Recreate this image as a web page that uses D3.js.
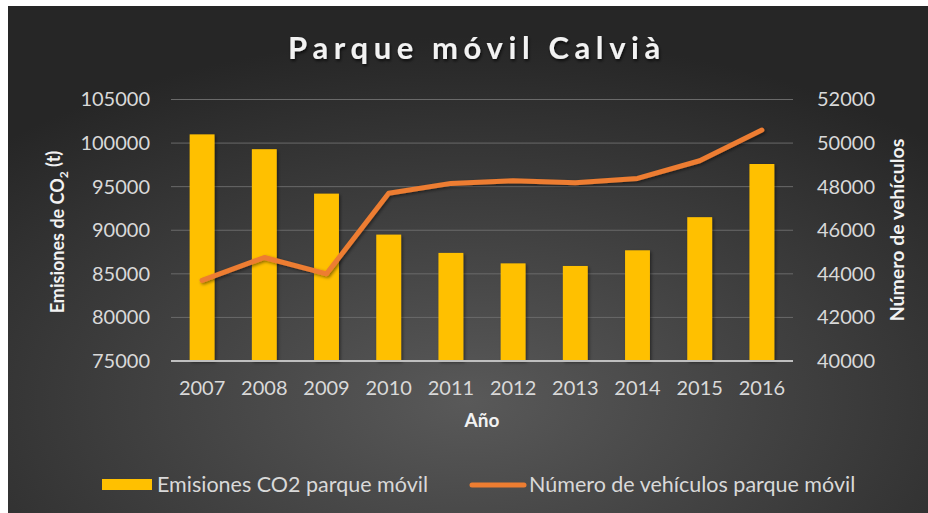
<!DOCTYPE html>
<html>
<head>
<meta charset="utf-8">
<script src="https://cdn.jsdelivr.net/npm/d3@7"></script>
<style>
  body { margin: 0; background: #fff; }
  svg { display: block; font-family: Lato, "Open Sans", sans-serif; }
</style>
</head>
<body>
<script>
// values
var years = ["2007", "2008", "2009", "2010", "2011", "2012", "2013", "2014", "2015", "2016"];
var emisiones = [101000, 99300, 94200, 89500, 87400, 86200, 85900, 87700, 91500, 97600];
var vehiculos = [43700, 44750, 44000, 47700, 48150, 48270, 48180, 48380, 49190, 50600];
var leftTicks = [75000, 80000, 85000, 90000, 95000, 100000, 105000];
var rightTicks = [40000, 42000, 44000, 46000, 48000, 50000, 52000];

var width = 928, height = 513;
var plot = {left: 171, right: 793, top: 99.5, bottom: 361};

var svg = d3.select("body").append("svg")
    .attr("width", width)
    .attr("height", height);

var defs = svg.append("defs");

var grad = defs.append("radialGradient")
    .attr("id", "bg")
    .attr("cx", "50%").attr("cy", "78%").attr("r", "72%");
grad.append("stop").attr("offset", "0%").attr("stop-color", "#595959");
grad.append("stop").attr("offset", "100%").attr("stop-color", "#262626");

var shadow = defs.append("filter")
    .attr("id", "shadow")
    .attr("x", "-20%").attr("y", "-20%").attr("width", "140%").attr("height", "140%");
shadow.append("feDropShadow")
    .attr("dx", 1.5).attr("dy", 1.5).attr("stdDeviation", 1.5)
    .attr("flood-color", "#000").attr("flood-opacity", 0.45);

var tshadow = defs.append("filter").attr("id", "tshadow");
tshadow.append("feDropShadow")
    .attr("dx", 1).attr("dy", 2).attr("stdDeviation", 1.5)
    .attr("flood-color", "#000").attr("flood-opacity", 0.7);

// background panel (white strip left/top like the screenshot)
svg.append("rect")
    .attr("x", 8).attr("y", 6)
    .attr("width", width - 8).attr("height", height - 6)
    .attr("fill", "url(#bg)");

var x = d3.scaleBand()
    .domain(years)
    .range([plot.left, plot.right])
    .paddingInner(0.6)
    .paddingOuter(0.3);

var yL = d3.scaleLinear()
    .domain([75000, 105000])
    .range([plot.bottom, plot.top]);

var yR = d3.scaleLinear()
    .domain([40000, 52000])
    .range([plot.bottom, plot.top]);

// gridlines
svg.append("g")
    .selectAll("line")
    .data(leftTicks.slice(1))
  .enter().append("line")
    .attr("x1", plot.left).attr("x2", plot.right)
    .attr("y1", function(d) { return yL(d); })
    .attr("y2", function(d) { return yL(d); })
    .attr("stroke", "#6a6a6a")
    .attr("stroke-width", 1);

// bars
svg.append("g")
    .attr("filter", "url(#shadow)")
    .selectAll("rect")
    .data(emisiones)
  .enter().append("rect")
    .attr("x", function(d, i) { return x(years[i]); })
    .attr("y", function(d) { return yL(d); })
    .attr("width", x.bandwidth())
    .attr("height", function(d) { return plot.bottom - yL(d); })
    .attr("fill", "#FFC000");

// baseline
svg.append("line")
    .attr("x1", plot.left).attr("x2", plot.right)
    .attr("y1", plot.bottom).attr("y2", plot.bottom)
    .attr("stroke", "#bfbfbf")
    .attr("stroke-width", 2);

// vehicles line
var line = d3.line()
    .x(function(d, i) { return x(years[i]) + x.bandwidth() / 2; })
    .y(function(d) { return yR(d); });

svg.append("path")
    .datum(vehiculos)
    .attr("d", line)
    .attr("fill", "none")
    .attr("stroke", "#ED7D31")
    .attr("stroke-width", 5)
    .attr("stroke-linecap", "round")
    .attr("stroke-linejoin", "round")
    .attr("filter", "url(#shadow)");

// axes
var fmt = d3.format("d");

var axL = svg.append("g")
    .attr("transform", "translate(" + plot.left + ",0)")
    .call(d3.axisLeft(yL).tickValues(leftTicks).tickFormat(fmt).tickSize(0).tickPadding(21));

var axR = svg.append("g")
    .attr("transform", "translate(" + plot.right + ",0)")
    .call(d3.axisRight(yR).tickValues(rightTicks).tickFormat(fmt).tickSize(0).tickPadding(24));

var axB = svg.append("g")
    .attr("transform", "translate(0," + plot.bottom + ")")
    .call(d3.axisBottom(x).tickSize(0).tickPadding(20));

[axL, axR, axB].forEach(function(ax) {
  ax.select(".domain").remove();
  ax.selectAll("text")
      .attr("fill", "#d9d9d9")
      .style("font-family", "Lato, sans-serif")
      .style("font-size", "20px");
});

// titles
svg.append("text")
    .attr("x", 477).attr("y", 59)
    .attr("text-anchor", "middle")
    .attr("fill", "#f2f2f2")
    .attr("filter", "url(#tshadow)")
    .style("font-size", "31px")
    .style("font-weight", "bold")
    .style("letter-spacing", "5.6px")
    .text("Parque móvil Calvià");

svg.append("text")
    .attr("x", 482).attr("y", 427)
    .attr("text-anchor", "middle")
    .attr("fill", "#f2f2f2")
    .style("font-size", "19px")
    .style("font-weight", "bold")
    .text("Año");

var tL = svg.append("text")
    .attr("transform", "translate(58,232) rotate(-90)")
    .attr("dy", "0.35em")
    .attr("text-anchor", "middle")
    .attr("fill", "#f2f2f2")
    .style("font-size", "18px")
    .style("font-weight", "bold");
tL.append("tspan").text("Emisiones de CO");
tL.append("tspan").attr("dy", "0.3em").style("font-size", "12px").text("2");
tL.append("tspan").attr("dy", "-0.45em").text(" (t)");

svg.append("text")
    .attr("transform", "translate(897,230) rotate(-90)")
    .attr("dy", "0.35em")
    .attr("text-anchor", "middle")
    .attr("fill", "#f2f2f2")
    .style("font-size", "19.5px")
    .style("font-weight", "bold")
    .text("Número de vehículos");

// legend
var legend = svg.append("g");
legend.append("rect")
    .attr("x", 102).attr("y", 479)
    .attr("width", 50).attr("height", 11)
    .attr("fill", "#FFC000");
legend.append("text")
    .attr("x", 157).attr("y", 492)
    .attr("fill", "#d9d9d9")
    .style("font-size", "21.5px")
    .text("Emisiones CO2 parque móvil");
legend.append("line")
    .attr("x1", 472).attr("x2", 524)
    .attr("y1", 485).attr("y2", 485)
    .attr("stroke", "#ED7D31")
    .attr("stroke-width", 5)
    .attr("stroke-linecap", "round");
legend.append("text")
    .attr("x", 529).attr("y", 492)
    .attr("fill", "#d9d9d9")
    .style("font-size", "21.5px")
    .text("Número de vehículos parque móvil");
</script>
</body>
</html>
